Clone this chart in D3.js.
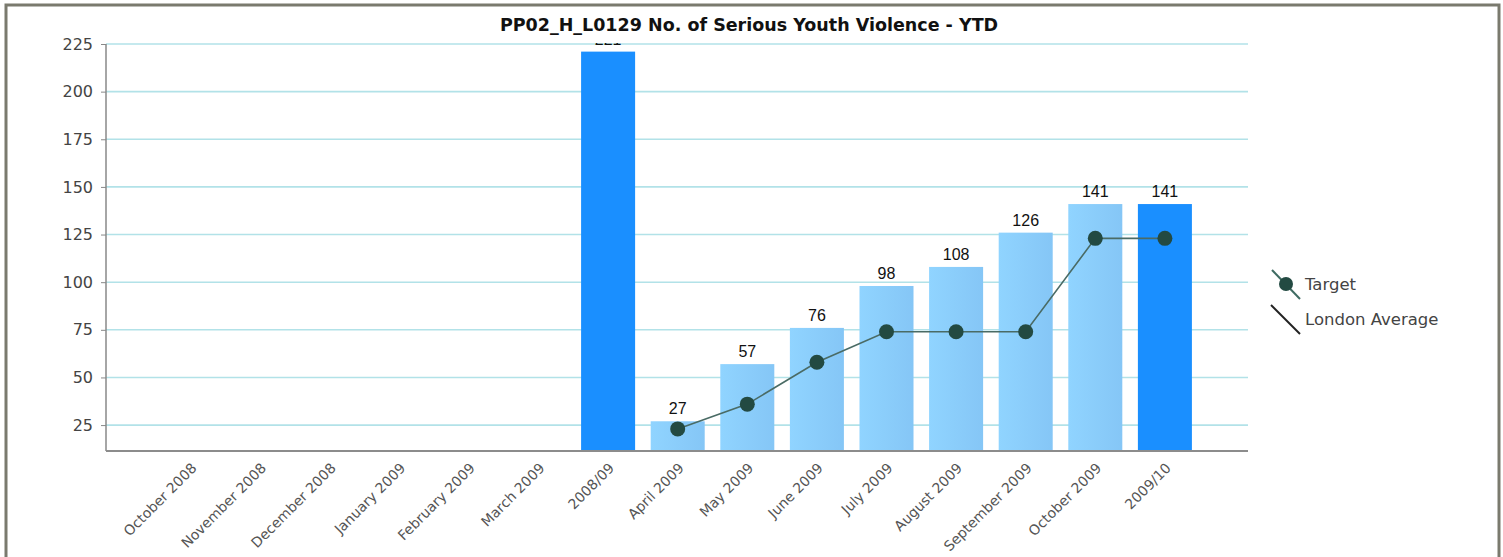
<!DOCTYPE html>
<html>
<head>
<meta charset="utf-8">
<script src="https://cdn.jsdelivr.net/npm/d3@7"></script>
<style>
  body { margin: 0; background: #fff; }
  svg { display: block; }
</style>
</head>
<body>
<div id="chart"></div>
<script>
// chart data
const categories = ["October 2008", "November 2008", "December 2008", "January 2009", "February 2009",
    "March 2009", "2008/09", "April 2009", "May 2009", "June 2009", "July 2009", "August 2009",
    "September 2009", "October 2009", "2009/10"];
const actual = [null, null, null, null, null, null, 221, 27, 57, 76, 98, 108, 126, 141, 141];
const target = [null, null, null, null, null, null, null, 23, 36, 58, 74, 74, 74, 123, 123];
const yearTotals = ["2008/09", "2009/10"];
const yTicks = [25, 50, 75, 100, 125, 150, 175, 200, 225];
const legendItems = ["Target", "London Average"];

const width = 1503, height = 557;
const plot = { left: 106, right: 1248, top: 44, bottom: 451 };

const svg = d3.select("#chart").append("svg")
    .attr("width", width)
    .attr("height", height);

const defs = svg.append("defs");
const grad = defs.append("linearGradient").attr("id", "lightBar")
    .attr("x1", "0%").attr("x2", "100%").attr("y1", "0%").attr("y2", "0%");
grad.append("stop").attr("offset", "0%").attr("stop-color", "#90d4ff");
grad.append("stop").attr("offset", "100%").attr("stop-color", "#85c6f6");

const x = d3.scaleBand()
    .domain(categories)
    .range([155.7, 1199.7])
    .paddingInner(0.224)
    .paddingOuter(0.112);

const y = d3.scaleLinear()
    .domain([11.4, 225])
    .range([plot.bottom, plot.top]);

// gridlines
svg.append("g")
    .selectAll("line")
    .data(yTicks)
    .join("line")
    .attr("x1", plot.left)
    .attr("x2", plot.right)
    .attr("y1", d => y(d))
    .attr("y2", d => y(d))
    .attr("stroke", "#b2e2e8")
    .attr("stroke-width", 1.6);

// bars
const barData = categories.map((c, i) => ({ cat: c, value: actual[i] })).filter(d => d.value != null);

svg.append("g")
    .selectAll("rect")
    .data(barData)
    .join("rect")
    .attr("x", d => x(d.cat))
    .attr("y", d => y(d.value))
    .attr("width", x.bandwidth())
    .attr("height", d => plot.bottom - y(d.value))
    .attr("fill", d => yearTotals.includes(d.cat) ? "#1a8fff" : "url(#lightBar)");

// value labels
svg.append("g")
    .selectAll("text")
    .data(barData)
    .join("text")
    .attr("x", d => x(d.cat) + x.bandwidth() / 2)
    .attr("y", d => y(d.value) - 7)
    .attr("text-anchor", "middle")
    .attr("font-family", "Liberation Sans, Arial, sans-serif")
    .attr("font-size", 16)
    .attr("fill", "#111")
    .text(d => d.value);

// target line
const targetData = categories.map((c, i) => ({ cat: c, value: target[i] })).filter(d => d.value != null);
const line = d3.line()
    .x(d => x(d.cat) + x.bandwidth() / 2)
    .y(d => y(d.value));

svg.append("path")
    .datum(targetData)
    .attr("d", line)
    .attr("fill", "none")
    .attr("stroke", "#4a6b65")
    .attr("stroke-width", 1.6);

svg.append("g")
    .selectAll("circle")
    .data(targetData)
    .join("circle")
    .attr("cx", d => x(d.cat) + x.bandwidth() / 2)
    .attr("cy", d => y(d.value))
    .attr("r", 7.5)
    .attr("fill", "#234a42");

// y axis
const yAxis = svg.append("g")
    .attr("transform", `translate(${plot.left},0)`)
    .call(d3.axisLeft(y).tickValues(yTicks).tickSize(5).tickPadding(8));
yAxis.select(".domain").attr("stroke", "#888").attr("stroke-width", 1.5)
    .attr("d", `M0,${plot.top}V${plot.bottom}`);
yAxis.selectAll(".tick line").attr("stroke", "#888");
yAxis.selectAll(".tick text")
    .attr("font-family", "DejaVu Sans, Verdana, sans-serif")
    .attr("font-size", 16)
    .attr("fill", "#444");

// x axis line
svg.append("line")
    .attr("x1", plot.left).attr("x2", plot.right)
    .attr("y1", plot.bottom).attr("y2", plot.bottom)
    .attr("stroke", "#8c8c8c")
    .attr("stroke-width", 2);

// x labels
svg.append("g")
    .selectAll("text")
    .data(categories)
    .join("text")
    .attr("transform", d => `translate(${x(d) + x.bandwidth() / 2 + 7},469) rotate(-45)`)
    .attr("text-anchor", "end")
    .attr("font-family", "DejaVu Sans, Verdana, sans-serif")
    .attr("font-size", 14)
    .attr("fill", "#555")
    .text(d => d);

// title band hides the top of the tallest value label, as in the original
svg.append("rect")
    .attr("x", 130).attr("y", 7)
    .attr("width", 1110).attr("height", 36)
    .attr("fill", "#fff");

svg.append("text")
    .attr("x", 749)
    .attr("y", 31)
    .attr("text-anchor", "middle")
    .attr("font-family", "DejaVu Sans, Verdana, sans-serif")
    .attr("font-weight", "bold")
    .attr("font-size", 17.5)
    .attr("fill", "#111")
    .text("PP02_H_L0129 No. of Serious Youth Violence - YTD");

// legend
const legend = svg.append("g");
legend.append("line")
    .attr("x1", 1272).attr("y1", 270).attr("x2", 1300).attr("y2", 299)
    .attr("stroke", "#3f6b62").attr("stroke-width", 2);
legend.append("circle")
    .attr("cx", 1286).attr("cy", 284).attr("r", 7)
    .attr("fill", "#234a42");
legend.append("line")
    .attr("x1", 1271).attr("y1", 305).attr("x2", 1300).attr("y2", 334)
    .attr("stroke", "#222").attr("stroke-width", 2);
legend.selectAll("text")
    .data(legendItems)
    .join("text")
    .attr("x", 1305)
    .attr("y", (d, i) => 290 + i * 35)
    .attr("font-family", "DejaVu Sans, Verdana, sans-serif")
    .attr("font-size", 16.5)
    .attr("fill", "#444")
    .text(d => d);

// outer frame
svg.append("rect")
    .attr("x", 6).attr("y", 5)
    .attr("width", 1493).attr("height", 600)
    .attr("fill", "none")
    .attr("stroke", "#7a7a6e")
    .attr("stroke-width", 3);
</script>
</body>
</html>
